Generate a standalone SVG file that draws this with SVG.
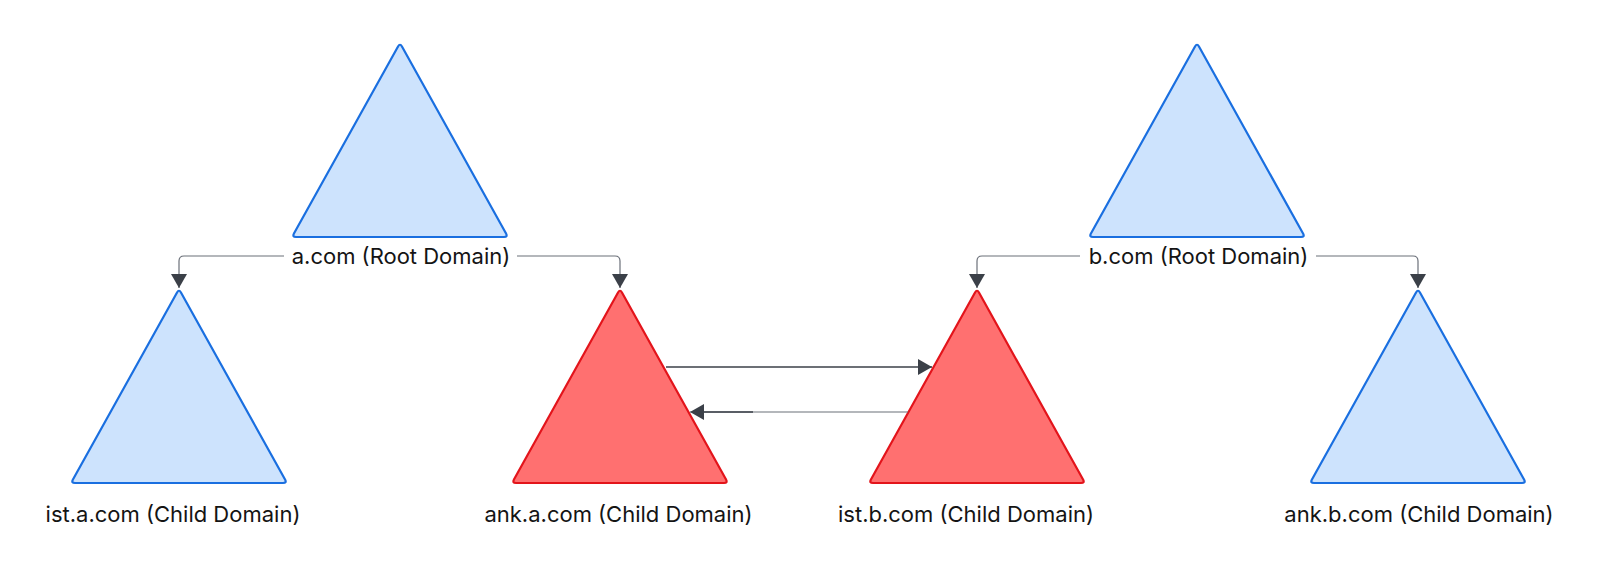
<svg xmlns="http://www.w3.org/2000/svg" width="1601" height="573" viewBox="0 0 1601 573">
  <style>
    .blue { fill: #cde3fd; stroke: #1a6fe0; stroke-width: 2.2; stroke-linejoin: round; }
    .red { fill: #ff7070; stroke: #e3141b; stroke-width: 2.2; stroke-linejoin: round; }
    .lbl { font-family: Inter, "Noto Sans", "Liberation Sans", sans-serif; font-size: 22px; fill: #141414; text-anchor: middle; }
    .conn { fill: none; stroke: #6b7079; stroke-width: 1.2; }
    .dark { fill: none; stroke: #3b4048; stroke-width: 1.3; }
  </style>
  <defs>
    <marker id="ah" viewBox="0 0 14 16" refX="14" refY="8" markerWidth="14" markerHeight="16" markerUnits="userSpaceOnUse" orient="auto">
      <path d="M0,0 L14,8 L0,16 Z" fill="#3b4048"/>
    </marker>
  </defs>
  <rect width="1601" height="573" fill="#ffffff"/>

  <g id="a-root">
    <path class="blue" d="M398.05,46.5 Q400,43 401.95,46.5 L506.05,233.5 Q508,237 504,237 L296,237 Q292,237 293.95,233.5 Z"/>
    <text class="lbl" x="401" y="263.5">a.com (Root Domain)</text>
  </g>
  <g id="b-root">
    <path class="blue" d="M1195.05,46.5 Q1197,43 1198.95,46.5 L1303.05,233.5 Q1305,237 1301,237 L1093,237 Q1089,237 1090.95,233.5 Z"/>
    <text class="lbl" x="1198.5" y="263.5">b.com (Root Domain)</text>
  </g>
  <g id="ist-a">
    <path class="blue" d="M177.05,292.5 Q179,289 180.95,292.5 L285.05,479.5 Q287,483 283,483 L75,483 Q71,483 72.95,479.5 Z"/>
    <text class="lbl" x="173" y="522">ist.a.com (Child Domain)</text>
  </g>
  <g id="ank-a">
    <path class="red" d="M618.05,292.5 Q620,289 621.95,292.5 L726.05,479.5 Q728,483 724,483 L516,483 Q512,483 513.95,479.5 Z"/>
    <text class="lbl" x="618.5" y="522">ank.a.com (Child Domain)</text>
  </g>
  <g id="ist-b">
    <path class="red" d="M975.05,292.5 Q977,289 978.95,292.5 L1083.05,479.5 Q1085,483 1081,483 L873,483 Q869,483 870.95,479.5 Z"/>
    <text class="lbl" x="966" y="522">ist.b.com (Child Domain)</text>
  </g>
  <g id="ank-b">
    <path class="blue" d="M1416.05,292.5 Q1418,289 1419.95,292.5 L1524.05,479.5 Q1526,483 1522,483 L1314,483 Q1310,483 1311.95,479.5 Z"/>
    <text class="lbl" x="1419" y="522">ank.b.com (Child Domain)</text>
  </g>

  <g id="connectors">
    <path class="conn" d="M284,256 H184 Q179,256 179,261 V288" marker-end="url(#ah)"/>
    <path class="conn" d="M517,256 H615 Q620,256 620,261 V288" marker-end="url(#ah)"/>
    <path class="conn" d="M1080,256 H982 Q977,256 977,261 V288" marker-end="url(#ah)"/>
    <path class="conn" d="M1316,256 H1413 Q1418,256 1418,261 V288" marker-end="url(#ah)"/>
    <path class="dark" d="M666,367 H932" marker-end="url(#ah)"/>
    <path class="conn" d="M908,412 H690" marker-end="url(#ah)"/>
    <path class="dark" d="M753,412 H700"/>
  </g>
</svg>
